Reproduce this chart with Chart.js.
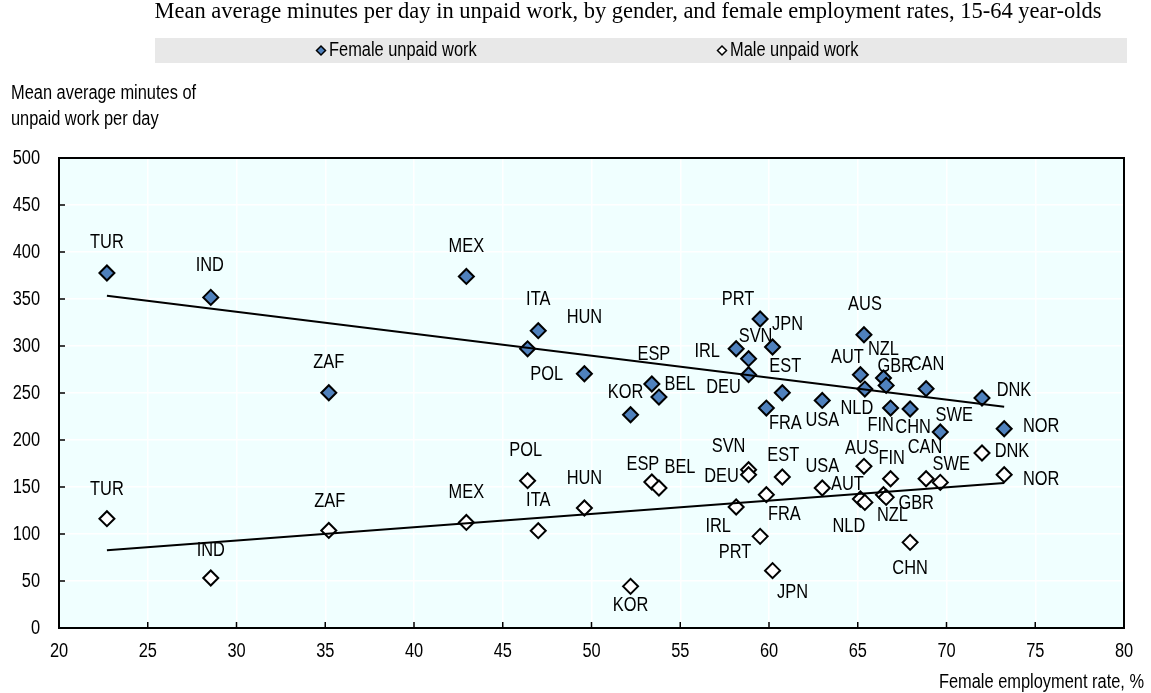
<!DOCTYPE html>
<html>
<head>
<meta charset="utf-8">
<script src="https://cdn.jsdelivr.net/npm/chart.js@4.4.0/dist/chart.umd.min.js"></script>
<style>
html, body { margin: 0; padding: 0; background: #fff; }
</style>
</head>
<body>
<canvas id="chart1" width="1151" height="693"></canvas>
<script>
// Country codes, female employment rate (x) and unpaid minutes per day (y)
var countries = ['TUR', 'IND', 'ZAF', 'MEX', 'POL', 'ITA', 'HUN', 'KOR', 'ESP', 'BEL', 'IRL', 'SVN', 'DEU', 'PRT', 'FRA',
    'JPN', 'EST', 'USA', 'AUT', 'AUS', 'NLD', 'NZL', 'GBR', 'FIN', 'CHN', 'CAN', 'SWE', 'DNK', 'NOR'];
var employmentRate = [22.7, 28.55, 35.2, 42.95, 46.4, 47.0, 49.6, 52.2, 53.4, 53.8, 58.15, 58.85, 58.85, 59.5, 59.85,
    60.2, 60.75, 63.0, 65.15, 65.35, 65.4, 66.45, 66.6, 66.85, 67.95, 68.85, 69.65, 72.0, 73.25];
var femaleUnpaid = [377.7, 351.7, 250.3, 374, 297, 316.3, 270.5, 226.9, 259.6, 245.7, 297.1, 286.5, 269.5, 328.7, 234,
    298.9, 250.3, 242.1, 269.5, 312, 254.2, 266, 258.1, 234, 233, 254.6, 208.5, 244.7, 212];
var maleUnpaid = [116.3, 53.2, 103.8, 112.3, 156.7, 103.5, 127.7, 44.3, 155.3, 148.9, 128.7, 168.4, 163.1, 97.5, 141.8,
    61, 160.6, 148.9, 137.2, 172, 133.6, 141.8, 139, 158.8, 91.1, 158.8, 154.9, 186.2, 163.1];

// Linear trend end points
var trendX = [22.7, 73.25];
var femaleTrend = [353.5, 235.4];
var maleTrend = [82.6, 154.3];

var xTicks = [20, 25, 30, 35, 40, 45, 50, 55, 60, 65, 70, 75, 80];
var yTicks = [0, 50, 100, 150, 200, 250, 300, 350, 400, 450, 500];

// Label placement (dx, dy in px from the marker), same order as countries
var femaleLabelPos = [[0,-30],[-1,-32],[0,-30],[0,-30],[19,26],[0,-31],[0,-56],[-5,-22],[2,-29],[21,-13],[-29,3],[7,-22],[-25,13],[-22,-20],[19,15],
    [15,-23],[3,-26],[0,20],[-13,-17],[1,-30],[-8,19],[0,-28],[9,-19],[-10,17],[3,19],[1,-24],[14,-17],[32,-7],[37,-2]];
var maleLabelPos = [[0,-29],[0,-28],[1,-29],[0,-30],[-2,-30],[0,-30],[0,-29],[0,19],[-9,-18],[21,-21],[-18,19],[-20,-23],[-27,2],[-25,16],[18,20],
    [20,22],[1,-22],[0,-22],[-13,-15],[-2,-18],[-16,24],[9,21],[30,6],[1,-20],[0,26],[-1,-31],[11,-18],[30,-1],[37,5]];

var SANS = '20px "Liberation Sans", Arial, sans-serif';
var BLUE = '#4F81BD';

function toPoints(xs, ys) {
    var pts = [];
    for (var i = 0; i < xs.length; i++) {
        pts.push({x: xs[i], y: ys[i]});
    }
    return pts;
}

// Arial squeezed horizontally to look like Arial Narrow
function narrowText(ctx, text, x, y, align) {
    ctx.save();
    ctx.translate(x, y);
    ctx.scale(0.82, 1);
    ctx.font = SANS;
    ctx.fillStyle = '#000';
    ctx.textAlign = align;
    ctx.textBaseline = 'middle';
    ctx.fillText(text, 0, 0);
    ctx.restore();
}

// Background, frame, inner tick marks, labels, titles and legend
var decorPlugin = {
    id: 'decor',
    beforeDraw: function(chart) {
        var ctx = chart.ctx, a = chart.chartArea;
        ctx.save();
        ctx.fillStyle = '#fff';
        ctx.fillRect(0, 0, chart.width, chart.height);
        ctx.fillStyle = '#F0FFFF';
        ctx.fillRect(a.left, a.top, a.right - a.left, a.bottom - a.top);
        ctx.restore();
    },
    beforeDatasetsDraw: function(chart) {
        var ctx = chart.ctx, a = chart.chartArea;
        var xs = chart.scales.x, ys = chart.scales.y;
        ctx.save();
        ctx.strokeStyle = '#000';
        ctx.lineWidth = 1.5;
        ctx.beginPath();
        xTicks.forEach(function(v) {
            var px = xs.getPixelForValue(v);
            ctx.moveTo(px, a.bottom);
            ctx.lineTo(px, a.bottom - 6);
        });
        yTicks.forEach(function(v) {
            var py = ys.getPixelForValue(v);
            ctx.moveTo(a.left, py);
            ctx.lineTo(a.left + 6, py);
        });
        ctx.stroke();
        ctx.lineWidth = 2;
        ctx.strokeRect(a.left, a.top, a.right - a.left, a.bottom - a.top);
        ctx.restore();
    },
    afterDatasetsDraw: function(chart) {
        var ctx = chart.ctx;
        [[2, femaleLabelPos], [3, maleLabelPos]].forEach(function(pair) {
            var meta = chart.getDatasetMeta(pair[0]);
            meta.data.forEach(function(el, i) {
                narrowText(ctx, countries[i], el.x + pair[1][i][0], el.y + pair[1][i][1], 'center');
            });
        });
    },
    afterDraw: function(chart) {
        var ctx = chart.ctx, a = chart.chartArea;
        var xs = chart.scales.x, ys = chart.scales.y;
        // tick labels
        xTicks.forEach(function(v) {
            narrowText(ctx, String(v), xs.getPixelForValue(v), 651, 'center');
        });
        yTicks.forEach(function(v) {
            narrowText(ctx, String(v), 40, ys.getPixelForValue(v), 'right');
        });
        ctx.save();
        // title
        ctx.fillStyle = '#000';
        ctx.font = '22.5px "Liberation Serif", "Times New Roman", serif';
        ctx.textAlign = 'center';
        ctx.textBaseline = 'middle';
        ctx.fillText('Mean average minutes per day in unpaid work, by gender, and female employment rates, 15-64 year-olds', 628, 12);
        // legend band
        ctx.fillStyle = '#E8E8E8';
        ctx.fillRect(155, 38, 1127 - 155, 25);
        var items = [['Female unpaid work', BLUE, 321], ['Male unpaid work', '#fff', 722]];
        items.forEach(function(it) {
            var cx = it[2], cy = 50.5;
            ctx.beginPath();
            ctx.moveTo(cx - 4.5, cy);
            ctx.lineTo(cx, cy - 4.5);
            ctx.lineTo(cx + 4.5, cy);
            ctx.lineTo(cx, cy + 4.5);
            ctx.closePath();
            ctx.fillStyle = it[1];
            ctx.fill();
            ctx.lineWidth = 1.5;
            ctx.strokeStyle = '#000';
            ctx.stroke();
            narrowText(ctx, it[0], cx + 8, cy, 'left');
        });
        ctx.restore();
        // axis titles
        narrowText(ctx, 'Mean average minutes of', 11, 93, 'left');
        narrowText(ctx, 'unpaid work per day', 11, 119, 'left');
        narrowText(ctx, 'Female employment rate, %', 1144, 682, 'right');
    }
};

const CHART1 = document.getElementById('chart1');
let unpaidChart = new Chart(CHART1, {
    type: 'scatter',
    data: {
        datasets: [
            {
                label: 'Female trend',
                data: toPoints(trendX, femaleTrend),
                showLine: true,
                borderColor: '#000',
                borderWidth: 2,
                pointRadius: 0
            },
            {
                label: 'Male trend',
                data: toPoints(trendX, maleTrend),
                showLine: true,
                borderColor: '#000',
                borderWidth: 2,
                pointRadius: 0
            },
            {
                label: 'Female unpaid work',
                data: toPoints(employmentRate, femaleUnpaid),
                pointStyle: 'rectRot',
                pointRadius: 7.5,
                backgroundColor: BLUE,
                borderColor: '#000',
                borderWidth: 2
            },
            {
                label: 'Male unpaid work',
                data: toPoints(employmentRate, maleUnpaid),
                pointStyle: 'rectRot',
                pointRadius: 7.5,
                backgroundColor: '#fff',
                borderColor: '#000',
                borderWidth: 2
            }
        ]
    },
    options: {
        responsive: false,
        animation: false,
        layout: { padding: { left: 0, right: 27, top: 158, bottom: 0 } },
        plugins: {
            legend: { display: false },
            tooltip: { enabled: false },
            title: { display: false }
        },
        scales: {
            x: {
                type: 'linear',
                min: 20,
                max: 80,
                ticks: { stepSize: 5, display: false },
                grid: { color: '#fff', lineWidth: 1.5, drawTicks: false },
                border: { color: '#000', width: 2 },
                afterFit: function(s) { s.height = 65; }
            },
            y: {
                min: 0,
                max: 500,
                ticks: { stepSize: 50, display: false },
                grid: { color: '#fff', lineWidth: 1.5, drawTicks: false },
                border: { color: '#000', width: 2 },
                afterFit: function(s) { s.width = 59; }
            }
        }
    },
    plugins: [decorPlugin]
});
</script>
</body>
</html>
